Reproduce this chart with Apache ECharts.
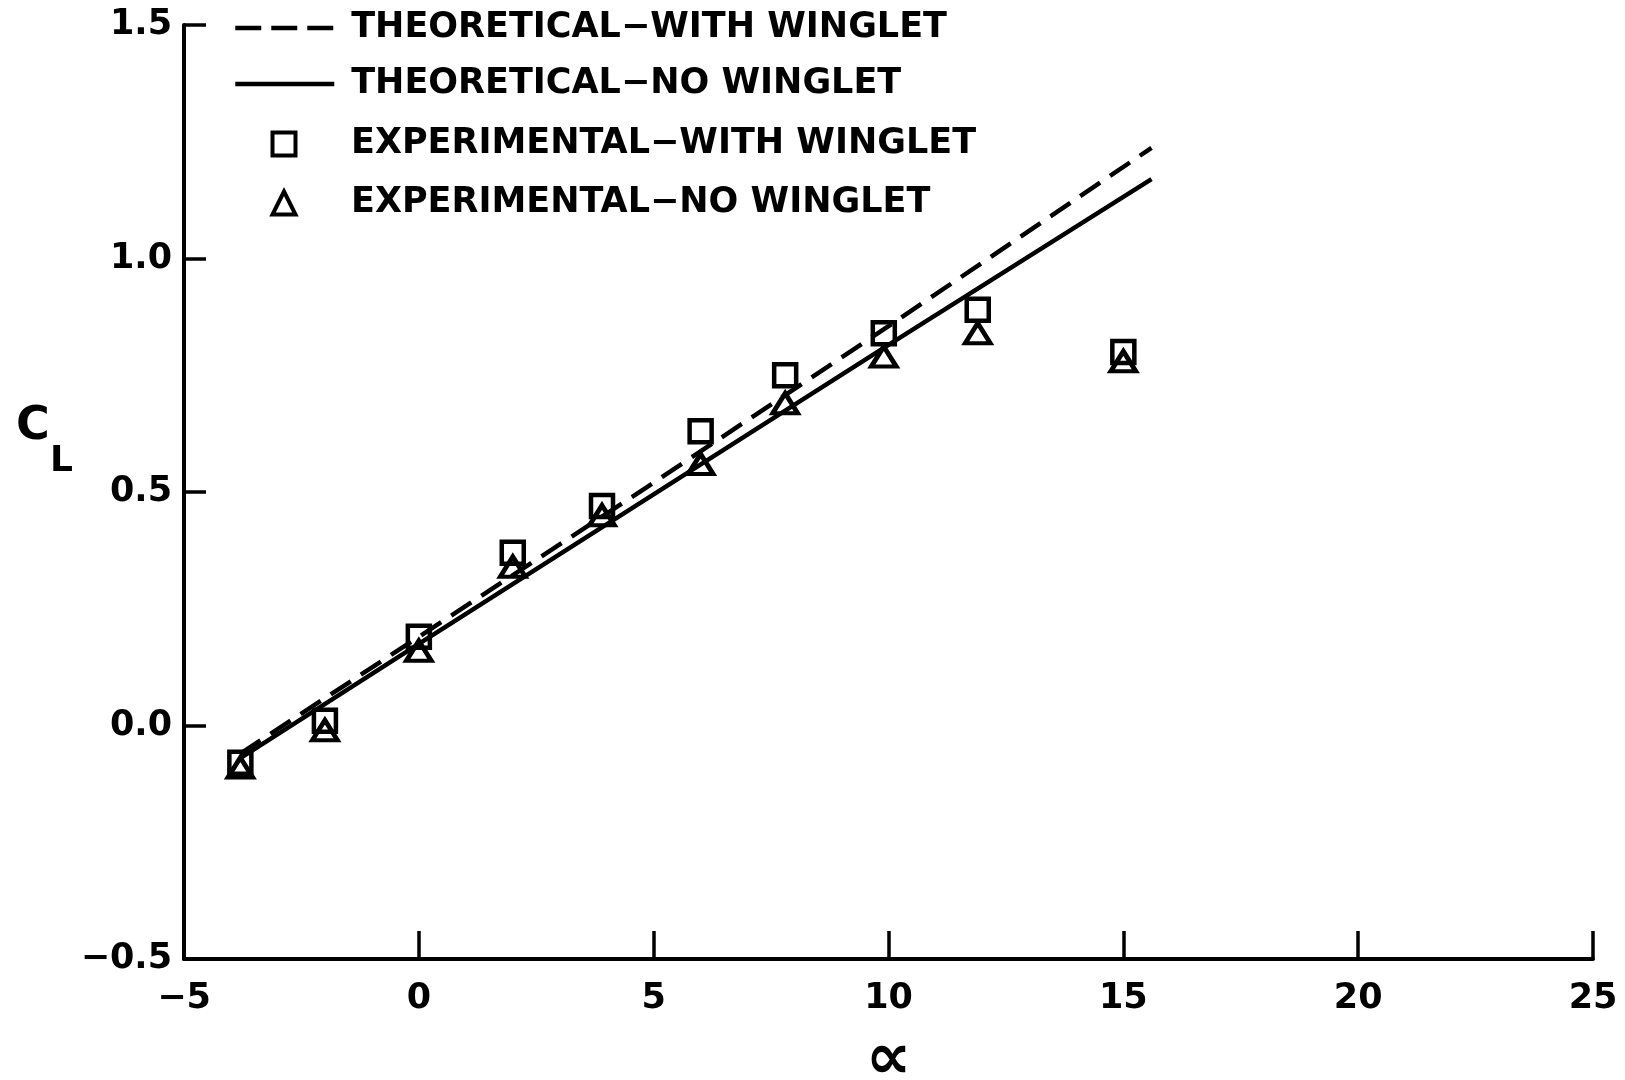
<!DOCTYPE html>
<html>
<head>
<meta charset="utf-8">
<script src="https://cdn.jsdelivr.net/npm/echarts@6/dist/echarts.min.js"></script>
<style>
  html, body { margin: 0; padding: 0; background: #fff; }
  #chart { width: 1625px; height: 1080px; }
</style>
</head>
<body>
<div id="chart"></div>
<script>
// Angle of attack (deg) and lift coefficient for the wing tests
const alphaExp = [-3.8, -2.0, 0.0, 2.0, 3.9, 6.0, 7.8, 9.9, 11.9, 15.0];
const clExpWithWinglet = [-0.08, 0.01, 0.19, 0.37, 0.47, 0.63, 0.75, 0.84, 0.89, 0.80];
const alphaExpNo = [-3.8, -2.0, 0.0, 2.0, 3.9, 6.0, 7.8, 9.9, 11.9, 15.0];
const clExpNoWinglet = [-0.09, -0.01, 0.16, 0.34, 0.45, 0.56, 0.69, 0.79, 0.84, 0.78];

// Theoretical curves
const alphaTheory = [-3.8, 0.0, 5.0, 10.0, 15.6];
const clTheoryWithWinglet = [-0.06, 0.19, 0.52, 0.855, 1.237];
const clTheoryNoWinglet = [-0.07, 0.175, 0.495, 0.815, 1.17];

const xTicks = [-5, 0, 5, 10, 15, 20, 25];
const yTicks = [-0.5, 0.0, 0.5, 1.0, 1.5];

const seriesNames = [
  'THEORETICAL\u2212WITH WINGLET',
  'THEORETICAL\u2212NO WINGLET',
  'EXPERIMENTAL\u2212WITH WINGLET',
  'EXPERIMENTAL\u2212NO WINGLET'
];

const FONT = '"DejaVu Sans", "Liberation Sans", sans-serif';
const INK = '#000';
const MINUS = '\u2212';

const pairs = (xs, ys) => xs.map((x, i) => [x, ys[i]]);
const fmtX = v => String(Math.round(v)).replace('-', MINUS);
const fmtY = v => v.toFixed(1).replace('-', MINUS);

const legendText = (pad) => ({
  fontFamily: FONT, fontWeight: 'bold', fontSize: 35, color: INK,
  padding: [0, 0, 0, pad], lineHeight: 36
});

// Line entries: a long stroke sample, no point symbol
const lineLegend = (name, centerY, dash) => ({
  data: [{ name: name }],
  left: 233,
  top: centerY - 18,
  orient: 'vertical',
  padding: 0,
  itemWidth: 99,
  itemHeight: 30,
  selectedMode: false,
  itemStyle: { color: 'rgba(0,0,0,0)', borderWidth: 0, opacity: 0 },
  lineStyle: { color: INK, width: 4.5, type: dash },
  textStyle: legendText(12)
});

// Marker entries: a single hollow symbol centred over the line samples
const markerLegend = (name, centerY, size) => ({
  data: [{ name: name }],
  left: 282 - size / 2,
  top: centerY - 18,
  orient: 'vertical',
  padding: 0,
  itemWidth: size,
  itemHeight: size,
  symbolKeepAspect: true,
  selectedMode: false,
  itemStyle: { color: 'rgba(255,255,255,0)', borderColor: INK, borderWidth: 4 },
  textStyle: legendText(349 - (282 + size / 2) - 5)
});

const chart = echarts.init(document.getElementById('chart'), null, { renderer: 'canvas' });

chart.setOption({
  backgroundColor: '#fff',
  animation: false,
  grid: { left: 184, right: 32, top: 25, bottom: 121, containLabel: false, outerBoundsMode: 'none' },
  legend: [
    lineLegend(seriesNames[0], 28, [26, 10]),
    lineLegend(seriesNames[1], 84, 'solid'),
    markerLegend(seriesNames[2], 144, 23),
    markerLegend(seriesNames[3], 203, 23)
  ],
  xAxis: {
    type: 'value',
    min: xTicks[0],
    max: xTicks[xTicks.length - 1],
    interval: 5,
    name: '\u221D',
    nameLocation: 'middle',
    nameGap: 70,
    nameTextStyle: { fontFamily: FONT, fontWeight: 'bold', fontSize: 64, color: INK },
    axisLine: { onZero: false, lineStyle: { color: INK, width: 4 } },
    axisTick: { inside: true, length: 28, lineStyle: { color: INK, width: 3.5 } },
    axisLabel: {
      margin: 22, color: INK, fontFamily: FONT, fontWeight: 'bold', fontSize: 35,
      formatter: fmtX
    },
    splitLine: { show: false }
  },
  yAxis: {
    type: 'value',
    min: yTicks[0],
    max: yTicks[yTicks.length - 1],
    interval: 0.5,
    axisLine: { show: true, onZero: false, lineStyle: { color: INK, width: 4 } },
    axisTick: { show: true, inside: true, length: 22, lineStyle: { color: INK, width: 3.5 } },
    axisLabel: {
      margin: 12, color: INK, fontFamily: FONT, fontWeight: 'bold', fontSize: 35,
      formatter: fmtY
    },
    splitLine: { show: false }
  },
  graphic: [
    {
      type: 'text', left: 16, top: 404,
      style: { text: 'C', fontFamily: FONT, fontWeight: 'bold', fontSize: 46, fill: INK }
    },
    {
      type: 'text', left: 50, top: 444,
      style: { text: 'L', fontFamily: FONT, fontWeight: 'bold', fontSize: 36, fill: INK }
    }
  ],
  series: [
    {
      name: seriesNames[0],
      type: 'line',
      data: pairs(alphaTheory, clTheoryWithWinglet),
      symbol: 'none',
      lineStyle: { color: INK, width: 4.5, type: [24, 12] },
      itemStyle: { color: INK },
      z: 2
    },
    {
      name: seriesNames[1],
      type: 'line',
      data: pairs(alphaTheory, clTheoryNoWinglet),
      symbol: 'none',
      lineStyle: { color: INK, width: 4.5, type: 'solid' },
      itemStyle: { color: INK },
      z: 2
    },
    {
      name: seriesNames[2],
      type: 'scatter',
      data: pairs(alphaExp, clExpWithWinglet),
      symbol: 'rect',
      symbolSize: 22,
      itemStyle: { color: 'rgba(255,255,255,0)', borderColor: INK, borderWidth: 4.5, opacity: 1 },
      z: 3
    },
    {
      name: seriesNames[3],
      type: 'scatter',
      data: pairs(alphaExpNo, clExpNoWinglet),
      symbol: 'triangle',
      symbolSize: [25, 20],
      itemStyle: { color: 'rgba(255,255,255,0)', borderColor: INK, borderWidth: 4.5, opacity: 1 },
      z: 3
    }
  ]
});
</script>
</body>
</html>
